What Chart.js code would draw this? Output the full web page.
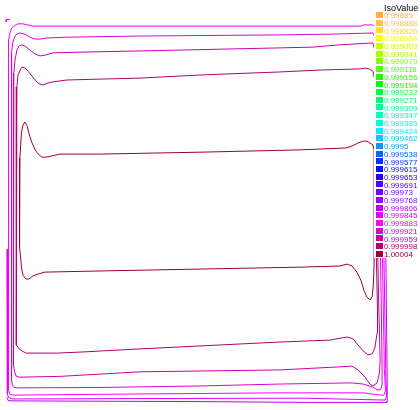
<!DOCTYPE html>
<html>
<head>
<meta charset="utf-8">
<script src="https://cdn.jsdelivr.net/npm/chart.js@4.4.1/dist/chart.umd.min.js"></script>
<style>
  html, body { margin: 0; padding: 0; background: #ffffff; }
  canvas { display: block; }
</style>
</head>
<body>
<canvas id="isoChart" width="420" height="410"></canvas>
<script>
// Iso values listed in the legend (lowest first)
const isoValues = [
    0.99885, 0.998888, 0.998926, 0.998964, 0.999003, 0.999041, 0.999079, 0.999118,
    0.999156, 0.999194, 0.999232, 0.999271, 0.999309, 0.999347, 0.999385, 0.999424,
    0.999462, 0.9995, 0.999538, 0.999577, 0.999615, 0.999653, 0.999691, 0.99973,
    0.999768, 0.999806, 0.999845, 0.999883, 0.999921, 0.999959, 0.999998, 1.00004
];

// Colour of each iso value
const isoColors = [
    '#ffb040', '#ffc830', '#ffe010', '#ffff00', '#ccff00', '#aaff00', '#88ff00', '#55ff00',
    '#22ff00', '#00ff11', '#00ff44', '#00ff66', '#00ff99', '#00ffbb', '#00ffdd', '#00eeff',
    '#00ccff', '#0099ff', '#0066ff', '#0033ff', '#0011ff', '#2200ff', '#5500ff', '#7700ff',
    '#9900ff', '#bb00ff', '#dd00ff', '#ff00ff', '#e000d0', '#cc00aa', '#b00070', '#990033'
];

// Contour lines, domain coordinates [x, y] in the unit square, with the iso value index
const contour1 = [ // 1.00004
    [0.963, 0.673], [0.955, 0.678], [0.947, 0.683], [0.937, 0.683], [0.924, 0.678], [0.908, 0.670],
    [0.892, 0.665], [0.771, 0.660], [0.508, 0.654], [0.245, 0.649], [0.139, 0.649], [0.118, 0.644],
    [0.103, 0.641], [0.092, 0.641], [0.082, 0.649], [0.074, 0.660], [0.066, 0.678], [0.058, 0.702],
    [0.053, 0.723], [0.047, 0.733], [0.042, 0.725], [0.038, 0.704], [0.036, 0.673], [0.034, 0.639],
    [0.033, 0.529], [0.033, 0.406], [0.036, 0.377], [0.038, 0.353], [0.042, 0.332], [0.050, 0.322],
    [0.058, 0.322], [0.068, 0.330], [0.082, 0.335], [0.100, 0.340], [0.245, 0.343], [0.508, 0.348],
    [0.771, 0.353], [0.876, 0.356], [0.895, 0.361], [0.908, 0.356], [0.921, 0.340], [0.932, 0.317],
    [0.939, 0.293], [0.947, 0.275], [0.955, 0.267], [0.961, 0.275], [0.964, 0.306], [0.966, 0.359],
    [0.966, 0.529], [0.966, 0.660], [0.963, 0.673]
];
const contour2 = [ // 0.999998
    [0.963, 0.866], [0.953, 0.872], [0.942, 0.874], [0.929, 0.872], [0.824, 0.869], [0.718, 0.864],
    [0.508, 0.856], [0.350, 0.848], [0.158, 0.843], [0.121, 0.838], [0.108, 0.835], [0.095, 0.830],
    [0.084, 0.833], [0.074, 0.843], [0.061, 0.859], [0.050, 0.872], [0.042, 0.877], [0.037, 0.874],
    [0.029, 0.856], [0.026, 0.825], [0.024, 0.791], [0.024, 0.529], [0.024, 0.162], [0.026, 0.149],
    [0.032, 0.139], [0.039, 0.134], [0.050, 0.128], [0.132, 0.128], [0.200, 0.131], [0.350, 0.139],
    [0.718, 0.157], [0.850, 0.162], [0.882, 0.168], [0.897, 0.170], [0.911, 0.165], [0.924, 0.149],
    [0.937, 0.134], [0.950, 0.123], [0.961, 0.126], [0.968, 0.141], [0.974, 0.181], [0.975, 0.241],
    [0.972, 0.377], [0.971, 0.660], [0.968, 0.843], [0.963, 0.866]
];
const contour3 = [ // 0.999959
    [0.963, 0.940], [0.876, 0.935], [0.805, 0.929], [0.718, 0.927], [0.350, 0.919], [0.200, 0.916],
    [0.121, 0.914], [0.100, 0.908], [0.087, 0.906], [0.074, 0.911], [0.061, 0.921], [0.047, 0.932],
    [0.039, 0.935], [0.032, 0.932], [0.026, 0.921], [0.021, 0.895], [0.018, 0.861], [0.017, 0.817],
    [0.017, 0.529], [0.017, 0.097], [0.020, 0.079], [0.024, 0.068], [0.032, 0.065], [0.139, 0.067],
    [0.350, 0.079], [0.718, 0.084], [0.876, 0.092], [0.908, 0.094], [0.924, 0.084], [0.942, 0.065],
    [0.955, 0.047], [0.963, 0.042], [0.974, 0.050], [0.980, 0.076], [0.982, 0.110], [0.978, 0.267],
    [0.976, 0.377], [0.974, 0.791], [0.971, 0.908], [0.963, 0.940]
];
const contour4 = [ // 0.999921
    [0.963, 0.966], [0.850, 0.963], [0.718, 0.961], [0.350, 0.958], [0.158, 0.955], [0.105, 0.953],
    [0.087, 0.950], [0.074, 0.950], [0.061, 0.955], [0.047, 0.963], [0.034, 0.966], [0.026, 0.963],
    [0.021, 0.958], [0.015, 0.940], [0.012, 0.914], [0.012, 0.869], [0.012, 0.058], [0.014, 0.045],
    [0.018, 0.038], [0.026, 0.037], [0.245, 0.038], [0.508, 0.042], [0.718, 0.047], [0.908, 0.050],
    [0.937, 0.047], [0.963, 0.039], [0.976, 0.031], [0.984, 0.034], [0.988, 0.050], [0.987, 0.110],
    [0.983, 0.377], [0.979, 0.791], [0.974, 0.945], [0.963, 0.966]
];
const contour5 = [ // 0.999883
    [0.963, 0.987], [0.937, 0.987], [0.934, 0.984], [0.508, 0.984], [0.068, 0.984], [0.055, 0.987],
    [0.042, 0.990], [0.029, 0.990], [0.018, 0.984], [0.012, 0.979], [0.008, 0.966], [0.004, 0.948],
    [0.004, 0.031], [0.007, 0.021], [0.016, 0.018], [0.350, 0.021], [0.718, 0.024], [0.937, 0.024],
    [0.982, 0.018], [0.992, 0.018], [0.996, 0.031], [0.993, 0.084], [0.988, 0.377], [0.984, 0.791],
    [0.976, 0.974], [0.963, 0.987]
];
const contour6 = [ // 0.999845
    [0.000, 0.400], [0.001, 0.020], [0.004, 0.012], [0.013, 0.008], [0.350, 0.009], [0.782, 0.010],
    [0.995, 0.005], [0.999, 0.016], [0.997, 0.058], [0.992, 0.377], [0.989, 0.791], [0.987, 0.995]
];
const contour7 = [ // 0.999806
    [0.000, 0.012], [0.003, 0.004], [0.013, 0.003], [0.508, 0.001], [0.782, -0.001], [1.000, -0.001],
    [1.001, 0.018], [1.000, 0.058], [0.997, 0.377], [0.997, 0.997]
];
const cornerMark = [[0.008, 1.001], [-0.002, 1.001], [-0.002, 0.995]]; // 0.999845
const cornerTick = [[0.995, -0.002], [1.000, 0.002]];                  // 0.999232

const contours = [
    { points: contour1, level: 31 },
    { points: contour2, level: 30 },
    { points: contour3, level: 29 },
    { points: contour4, level: 28 },
    { points: contour5, level: 27 },
    { points: contour6, level: 26 },
    { points: contour7, level: 25 },
    { points: cornerMark, level: 26 },
    { points: cornerTick, level: 10 }
];

// Legend drawn on a white panel on the right side, like the FreeFem output
const isoLegend = {
    id: 'isoLegend',
    afterDraw(chart) {
        const ctx = chart.ctx;
        ctx.save();
        ctx.fillStyle = '#ffffff';
        ctx.fillRect(374, 0, 46, 258);
        ctx.fillStyle = '#000000';
        ctx.font = '9px "Liberation Sans", Arial, sans-serif';
        ctx.textBaseline = 'alphabetic';
        ctx.fillText('IsoValue', 384, 10.5);
        ctx.font = '8px "Liberation Sans", Arial, sans-serif';
        isoValues.forEach((v, i) => {
            const yc = 15 + i * 7.7;
            ctx.fillStyle = isoColors[i];
            ctx.fillRect(376, Math.round(yc - 3), 7, 6);
            ctx.fillText(String(v), 384, yc + 3.2);
        });
        ctx.restore();
    }
};

new Chart(document.getElementById('isoChart'), {
    type: 'scatter',
    data: {
        datasets: contours.map(c => ({
            data: c.points.map(p => ({ x: p[0], y: p[1] })),
            showLine: true,
            borderColor: isoColors[c.level],
            backgroundColor: isoColors[c.level],
            borderWidth: 1,
            pointRadius: 0,
            tension: 0,
            fill: false,
            clip: false
        }))
    },
    options: {
        responsive: false,
        animation: false,
        layout: { padding: { left: 7, top: 20, right: 33, bottom: 8 } },
        scales: {
            x: { type: 'linear', min: 0, max: 1, display: false },
            y: { type: 'linear', min: 0, max: 1, display: false }
        },
        plugins: {
            legend: { display: false },
            tooltip: { enabled: false }
        }
    },
    plugins: [isoLegend]
});
</script>
</body>
</html>
